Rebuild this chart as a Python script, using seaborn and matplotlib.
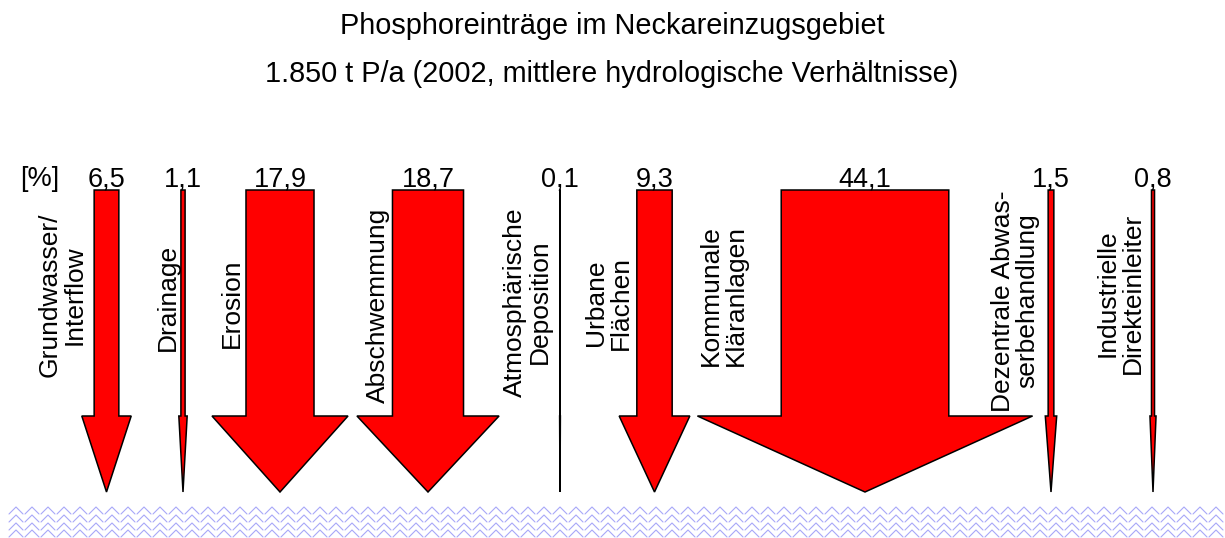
import numpy as np
import matplotlib
matplotlib.use("Agg")
import matplotlib.pyplot as plt
import seaborn as sns
from matplotlib.patches import Polygon

# --- data ---
categories = ["Grundwasser/\nInterflow", "Drainage", "Erosion", "Abschwemmung",
              "Atmosphärische\nDeposition", "Urbane\nFlächen", "Kommunale\nKläranlagen",
              "Dezentrale Abwas-\nserbehandlung", "Industrielle\nDirekteinleiter"]
shares = [6.5, 1.1, 17.9, 18.7, 0.1, 9.3, 44.1, 1.5, 0.8]
unit_label = "[%]"
title = "Phosphoreinträge im Neckareinzugsgebiet"
subtitle = "1.850 t P/a (2002, mittlere hydrologische Verhältnisse)"

# --- layout (pixel coordinates of the canvas) ---
arrow_x = [106.5, 183, 280, 428, 560, 654.5, 865, 1051, 1153]
label_x = [62.5, 168, 232, 378, 527, 608, 723, 1015, 1120]
label_y = [295, 297, 303, 305, 302, 303, 296, 301, 293]
px_per_pct = 3.8
shaft_top, head_top, tip_y = 190, 416, 492

sns.set_theme(style="white")
plt.rcParams['font.family'] = ['Liberation Sans', 'DejaVu Sans']
plt.rcParams['text.color'] = 'black'

fig = plt.figure(figsize=(12.25, 5.38), dpi=100)
ax = fig.add_axes([0, 0, 1, 1])
ax.set_xlim(0, 1225)
ax.set_ylim(538, 0)
ax.axis('off')

# arrows, shaft width proportional to share, head twice as wide
for cx, v in zip(arrow_x, shares):
    w = v * px_per_pct / 2
    pts = [(cx - w, shaft_top), (cx + w, shaft_top), (cx + w, head_top),
           (cx + 2 * w, head_top), (cx, tip_y), (cx - 2 * w, head_top),
           (cx - w, head_top)]
    ax.add_patch(Polygon(pts, closed=True, facecolor='#ff0000',
                         edgecolor='black', linewidth=1.1, joinstyle='miter'))
    ax.text(cx, 186, f"{v:.1f}".replace(".", ","), ha='center', va='baseline',
            fontsize=19.5, color='black')

ax.text(40, 186, unit_label, ha='center', va='baseline', fontsize=19.5, color='black')

for lbl, lx, ly in zip(categories, label_x, label_y):
    ax.text(lx, ly, lbl, rotation=90, ha='center', va='center', color='black',
            multialignment='center', fontsize=19, linespacing=1.05)

ax.text(612, 34, title, ha='center', va='baseline', fontsize=20.8, color='black')
ax.text(612, 82, subtitle, ha='center', va='baseline', fontsize=20.8, color='black')

# water surface: rows of small chevrons
xs = np.arange(9, 1212, 16)
for row_y in [507, 515, 523, 530]:
    wx, wy = [], []
    for x0 in xs:
        wx += [x0, x0 + 7, x0 + 14, np.nan]
        wy += [row_y + 7, row_y, row_y + 7, np.nan]
    ax.plot(wx, wy, color='#a8a8f8', linewidth=0.8)

fig.savefig("out.png", dpi=100)
